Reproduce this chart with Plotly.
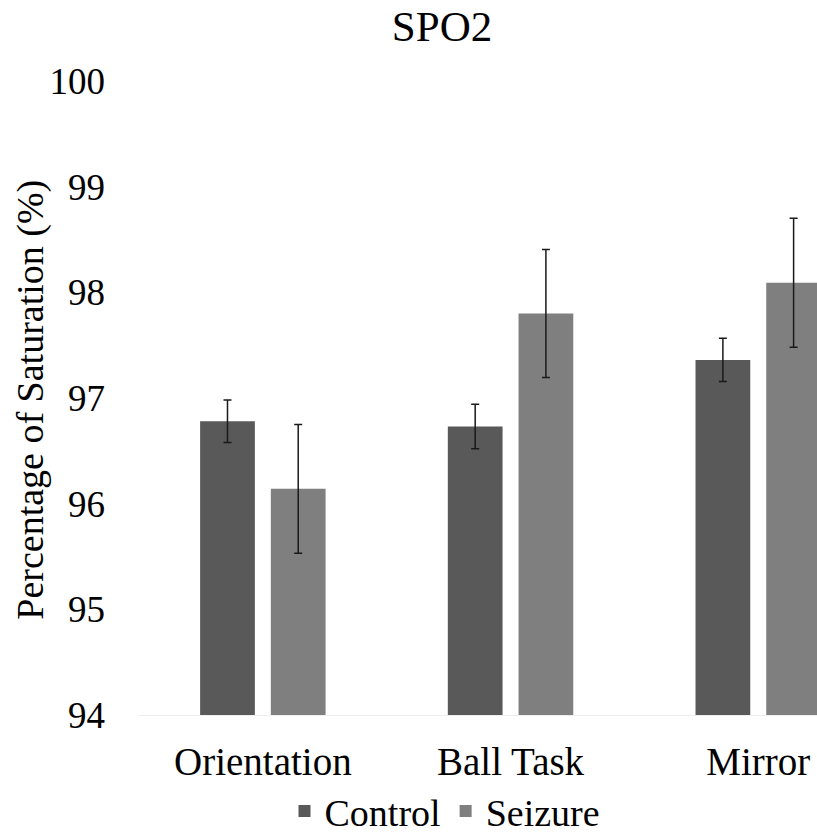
import plotly.graph_objects as go

categories = ["Orientation", "Ball Task", "Mirror"]
control_vals = [96.78, 96.73, 97.36]
control_err = [0.20, 0.21, 0.205]
seizure_vals = [96.14, 97.80, 98.09]
seizure_err = [0.61, 0.605, 0.61]
y_ticks = [94, 95, 96, 97, 98, 99, 100]

FONT = "Liberation Serif"

W, H = 817, 833
L, R, T, B = 139, 0, 81, 117.5
cat_px = 247.7
plot_w = W - L - R
plot_h = H - T - B
x_hi = -0.5 + plot_w / cat_px

fig = go.Figure()
fig.add_trace(go.Bar(
    name="Control", x=list(range(len(categories))), y=control_vals,
    marker=dict(color="#595959", line=dict(width=0)),
    error_y=dict(type="data", array=control_err, visible=True,
                 color="#1a1a1a", thickness=1.5, width=4),
))
fig.add_trace(go.Bar(
    name="Seizure", x=list(range(len(categories))), y=seizure_vals,
    marker=dict(color="#7f7f7f", line=dict(width=0)),
    error_y=dict(type="data", array=seizure_err, visible=True,
                 color="#1a1a1a", thickness=1.5, width=4),
))

fig.update_layout(
    width=W, height=H,
    margin=dict(l=L, r=R, t=T, b=B, pad=0, autoexpand=False),
    paper_bgcolor="white", plot_bgcolor="white",
    barmode="group", bargap=0.429, bargroupgap=0.226,
    font=dict(family=FONT, size=37, color="#000000"),
    title=dict(text="SPO2", x=442 / W, xanchor="center",
               y=1 - 26 / H, yanchor="middle",
               font=dict(family=FONT, size=43, color="#000000")),
    xaxis=dict(
        range=[-0.5, x_hi], tickmode="array",
        tickvals=list(range(len(categories))), ticktext=categories,
        showgrid=False, zeroline=False, showline=True,
        linecolor="#eeeeee", linewidth=1, ticks="",
        tickfont=dict(family=FONT, size=39, color="#000000"),
        ticklabelstandoff=12, automargin=False,
    ),
    yaxis=dict(
        range=[94, 100], tickmode="array", tickvals=y_ticks,
        showgrid=False, zeroline=False, showline=False, ticks="",
        tickfont=dict(family=FONT, size=37, color="#000000"),
        ticklabelstandoff=33, automargin=False,
    ),
    showlegend=True,
    legend=dict(orientation="h", x=(445 - L) / plot_w, xanchor="center",
                y=-(812 - 715.5) / plot_h, yanchor="middle",
                font=dict(family=FONT, size=38, color="#000000"),
                itemwidth=30, tracegroupgap=0, bgcolor="rgba(0,0,0,0)"),
    annotations=[dict(
        text="Percentage of Saturation (%)", textangle=-90,
        xref="paper", yref="paper",
        x=-(L - 31) / plot_w, y=(715.5 - 400) / plot_h,
        xanchor="center", yanchor="middle", showarrow=False,
        font=dict(family=FONT, size=38, color="#000000"),
    )],
)

fig.write_html(
    "out.html",
    config={"displayModeBar": False},
    post_script="document.body.style.margin='0';document.body.style.overflow='hidden';",
)
